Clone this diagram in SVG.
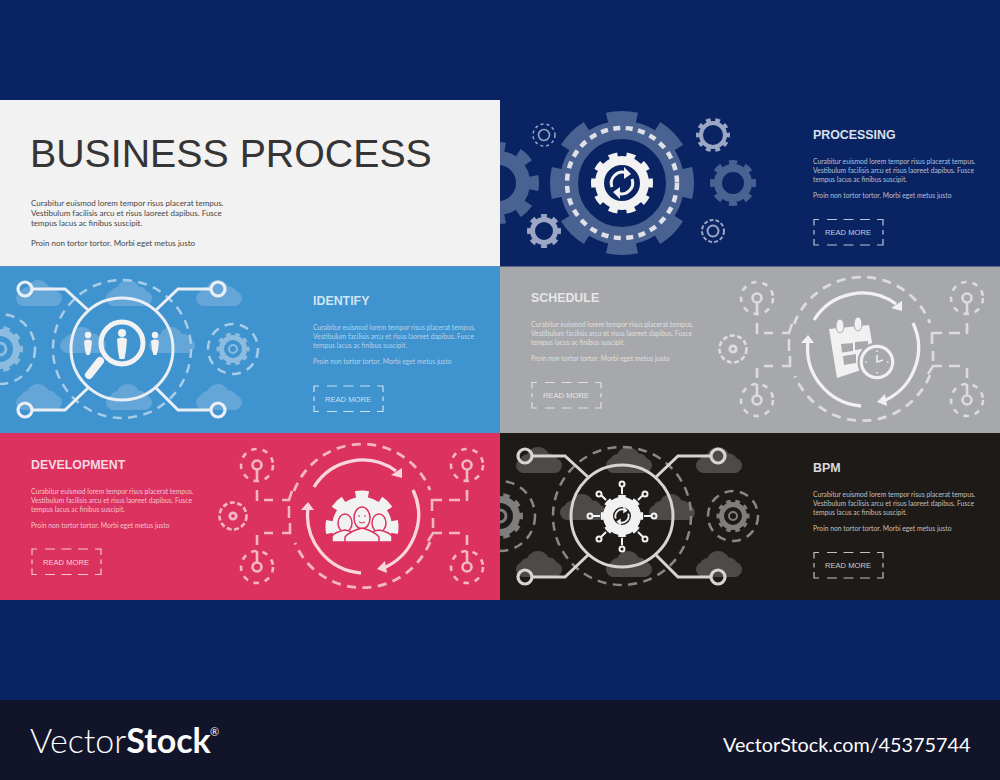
<svg xmlns="http://www.w3.org/2000/svg" width="1000" height="780" viewBox="0 0 1000 780">
<style>
text{font-family:"Liberation Sans",Arial,sans-serif;opacity:.99}
.h{font-weight:700;font-size:12.4px}
.b{font-family:Lato,"Liberation Sans",sans-serif;font-size:6.75px}
.t{font-size:8px}
.m{font-size:7.6px;text-anchor:middle}
.dr{fill:none;stroke:var(--d);stroke-width:2.5;stroke-dasharray:9 6.5}
.hl{fill:none;stroke:var(--l);stroke-width:3}
.cl{fill:var(--c)}
.dl{fill:none;stroke:var(--d);stroke-width:2.6}
.ar{fill:none;stroke:var(--l);stroke-width:3.3}
.ah{fill:var(--l)}
</style>
<defs>
<clipPath id="cHubL"><rect x="0" y="267" width="500" height="166"/></clipPath>
<clipPath id="cTop"><rect x="500" y="100" width="500" height="166"/></clipPath>
<clipPath id="cGear"><rect x="300" y="480" width="130" height="62"/></clipPath>
<path id="box" fill="none" stroke-width="1.2" d="M0 6V0H5M13 0H23M29.500 0H39.500M46 0H56M63 0H69V6M0 10.500V15M69 10.500V15M0 19.500V25.500H5M13 25.500H23M29.500 25.500H39.500M46 25.500H56M63 25.500H69V19.500"/>
<g id="cloud"><rect x="0" y="11" width="46" height="15" rx="7.500"/><circle cx="22" cy="11.500" r="11.500"/><circle cx="12" cy="15" r="8"/><circle cx="33" cy="15" r="8.500"/></g>
<g id="refresh">
<path d="M-10 4A11 11 0 0 1 4 -10.200" fill="none" stroke-width="3"/>
<path d="M10 -4A11 11 0 0 1 -4 10.200" fill="none" stroke-width="3"/>
<path d="M2 -16L9 -9L2 -4Z" stroke="none" fill="#f2f2f2"/>
<path d="M-2 16L-9 9L-2 4Z" stroke="none" fill="#f2f2f2"/>
</g>
<g id="hub">
<use href="#cloud" x="16" y="280" class="cl"/><use href="#cloud" x="106" y="280" class="cl"/><use href="#cloud" x="196" y="280" class="cl"/>
<use href="#cloud" x="60" y="327" class="cl"/><use href="#cloud" x="149" y="327" class="cl"/>
<use href="#cloud" x="16" y="384" class="cl"/><use href="#cloud" x="106" y="384" class="cl"/><use href="#cloud" x="196" y="384" class="cl"/>
<circle cx="122" cy="349" r="69" class="dr"/>
<g clip-path="url(#cHubL)"><circle cx="0" cy="349" r="35" class="dr"/>
<g fill="none" stroke="var(--g)">
<circle cx="0" cy="349" r="16.500" stroke-width="7"/>
<circle cx="0" cy="349" r="20.500" stroke-width="5" pathLength="20" stroke-dasharray="1 1" stroke-dashoffset="0.500"/>
<circle cx="0" cy="349" r="6" stroke-width="3"/>
</g></g>
<circle cx="233" cy="349" r="25" class="dr"/>
<g fill="none" stroke="var(--g)">
<circle cx="233" cy="349" r="11.500" stroke-width="5"/>
<circle cx="233" cy="349" r="14.500" stroke-width="4" pathLength="20" stroke-dasharray="1 1" stroke-dashoffset="0.500"/>
<circle cx="233" cy="349" r="4" stroke-width="2"/>
</g>
<circle cx="122" cy="349" r="51" fill="none" stroke="var(--l)" stroke-width="3"/>
<path class="hl" d="M32 289H65L88 310M211 289H178L156 310M32 410H65L88 388M211 410H178L156 388"/>
<g fill="none" stroke="var(--l)" stroke-width="3.200"><circle cx="25" cy="289" r="7"/><circle cx="218" cy="289" r="7"/><circle cx="25" cy="410" r="7"/><circle cx="218" cy="410" r="7"/></g>
</g>
<g id="cycle">
<g transform="translate(363 349)">
<path d="M-69 -25A73 73 0 0 1 67 -26" fill="none" stroke="var(--d)" stroke-width="2.800" stroke-dasharray="9 6.500"/>
<path d="M67 26A73 73 0 0 1 -68 27" fill="none" stroke="var(--d)" stroke-width="2.800" stroke-dasharray="9 6.500"/>
<path class="ar" d="M-49 -29A57 57 0 0 1 33 -45"/>
<path class="ar" d="M50 -26A58 58 0 0 1 18 53"/>
<path class="ar" d="M-2 57A58 58 0 0 1 -55 -8"/>
<path class="ah" d="M39 -48V-38L28 -41Z"/>
<path class="ah" d="M14 53L22 45L24 57Z"/>
<path class="ah" d="M-55 -14L-62 -6H-49Z"/>
</g>
<g fill="none" stroke="var(--d)">
<circle cx="257" cy="298" r="16" stroke-width="2.600" stroke-dasharray="5.500 6"/>
<circle cx="257" cy="400" r="16" stroke-width="2.600" stroke-dasharray="5.500 6"/>
<circle cx="467" cy="298" r="16" stroke-width="2.600" stroke-dasharray="5.500 6"/>
<circle cx="467" cy="400" r="16" stroke-width="2.600" stroke-dasharray="5.500 6"/>
<circle cx="233" cy="349" r="13.500" stroke-width="2.600" stroke-dasharray="5 2.500"/>
<circle cx="233" cy="349" r="3.200" stroke-width="2.800"/>
<circle cx="257" cy="298" r="4.500" stroke-width="2.600"/>
<circle cx="257" cy="400" r="4.500" stroke-width="2.600"/>
<circle cx="467" cy="298" r="4.500" stroke-width="2.600"/>
<circle cx="467" cy="400" r="4.500" stroke-width="2.600"/>
</g>
<path class="dl" d="M257 303V314M257 323V334M264 333H273M282 333H289L292 324M289 339V351M290 356V366H282M273 366H264M257 368V378M257 384V395M467 303V314M467 323V334M460 333H449M442 333H432V344M433 351V361M428 374L433 366H442M449 366H460M467 368V378M467 384V395"/>
</g>
</defs>
<rect width="1000" height="780" fill="#0a2463"/>
<rect y="700" width="1000" height="80" fill="#12152a"/>

<g id="panel-title">
<rect x="0" y="100" width="500" height="166.500" fill="#f2f2f2"/>
<text x="30" y="167" font-size="39.300" fill="#333">BUSINESS PROCESS</text>
<g fill="#444">
<text class="b t" x="31" y="206">Curabitur euismod lorem tempor risus placerat tempus.</text>
<text class="b t" x="31" y="216">Vestibulum facilisis arcu et risus laoreet dapibus. Fusce</text>
<text class="b t" x="31" y="226">tempus lacus ac finibus suscipit.</text>
<text class="b t" x="31" y="246">Proin non tortor tortor. Morbi eget metus justo</text>
</g>
</g>

<g id="panel-processing">
<g clip-path="url(#cTop)">
<g fill="none" stroke="#4a6291">
<circle cx="498" cy="183" r="25" stroke-width="14"/>
<circle cx="498" cy="183" r="36" stroke-width="10" pathLength="16" stroke-dasharray="1 1" stroke-dashoffset="0.500"/>
<circle cx="622" cy="183" r="53" stroke-width="18"/>
<circle cx="622" cy="183" r="66" stroke-width="12" pathLength="16" stroke-dasharray="1.150 .85" stroke-dashoffset="0.575"/>
<circle cx="733" cy="183" r="15" stroke-width="8"/>
<circle cx="733" cy="183" r="20" stroke-width="6" pathLength="16" stroke-dasharray="1 1" stroke-dashoffset="0.500"/>
</g>
<g fill="none" stroke="#9aa6c3">
<circle cx="713" cy="135" r="12" stroke-width="4"/>
<circle cx="713" cy="135" r="15" stroke-width="4" pathLength="20" stroke-dasharray="1 1" stroke-dashoffset="0.500"/>
<circle cx="544" cy="231" r="11.500" stroke-width="5"/>
<circle cx="544" cy="231" r="15" stroke-width="4" pathLength="16" stroke-dasharray="1 1" stroke-dashoffset="0.500"/>
<circle cx="544" cy="135" r="11" stroke-width="1.500" stroke-dasharray="3 3"/>
<circle cx="544" cy="135" r="5.500" stroke-width="1.500"/>
<circle cx="713" cy="231" r="11" stroke-width="2" stroke-dasharray="4 2"/>
<circle cx="713" cy="231" r="5.500" stroke-width="2"/>
</g>
<circle cx="622" cy="183" r="55" fill="none" stroke="#dfe1e8" stroke-width="4.500" stroke-dasharray="7 5.500"/>
<g fill="none" stroke="#f2f2f2">
<circle cx="622" cy="183" r="22.500" stroke-width="9"/>
<circle cx="622" cy="183" r="28" stroke-width="6" pathLength="20" stroke-dasharray="1 1" stroke-dashoffset="0.500"/>
</g>
<use href="#refresh" x="622" y="183" stroke="#f2f2f2"/>
</g>
<text class="h" x="813" y="139" fill="#dde2ec">PROCESSING</text>
<g fill="#b8c3da">
<text class="b" x="813" y="164">Curabitur euismod lorem tempor risus placerat tempus.</text>
<text class="b" x="813" y="173">Vestibulum facilisis arcu et risus laoreet dapibus. Fusce</text>
<text class="b" x="813" y="182">tempus lacus ac finibus suscipit.</text>
<text class="b" x="813" y="198">Proin non tortor tortor. Morbi eget metus justo</text>
</g>
<use href="#box" x="814" y="219.500" stroke="#b8c3da"/>
<text class="m" x="848" y="235" fill="#c8d0e2">READ MORE</text>
</g>

<g id="panel-identify" style="--d:#a9cce8;--l:#e9eff5;--c:#64a6d8;--g:#8cbce0">
<rect x="0" y="266.500" width="500" height="166.500" fill="#3f93ce"/>
<use href="#hub"/>
<g fill="#f2f2f2">
<circle cx="122" cy="343" r="21" fill="none" stroke="#f2f2f2" stroke-width="5"/>
<path d="M100 361L89 375" stroke="#f2f2f2" stroke-width="8" stroke-linecap="round"/>
<circle cx="122" cy="333" r="4"/><path d="M117 339Q122 336 127 339L126 351L124.500 359H119.500L118 351Z"/>
<circle cx="88" cy="335" r="3.200"/><path d="M84 341Q88 338 92 341L91 350L89.500 355H86.500L85 350Z"/>
<circle cx="155" cy="335" r="3.200"/><path d="M151 341Q155 338 159 341L158 350L156.500 355H153.500L152 350Z"/>
</g>
<text class="h" x="313" y="305" fill="#d4e6f4">IDENTIFY</text>
<g fill="#b5d6ee">
<text class="b" x="313" y="330">Curabitur euismod lorem tempor risus placerat tempus.</text>
<text class="b" x="313" y="339">Vestibulum facilisis arcu et risus laoreet dapibus. Fusce</text>
<text class="b" x="313" y="348">tempus lacus ac finibus suscipit.</text>
<text class="b" x="313" y="364">Proin non tortor tortor. Morbi eget metus justo</text>
</g>
<use href="#box" x="314" y="386" stroke="#cfe2f2"/>
<text class="m" x="348" y="402" fill="#cfe2f2">READ MORE</text>
</g>

<g id="panel-schedule" style="--d:#dcdcdc;--l:#f1f1f1">
<rect x="500" y="266.500" width="500" height="166.500" fill="#a6a8ab"/>
<use href="#cycle" x="500"/>
<path d="M829 329L869 325L876 365L837 378Z" fill="#f1f1f1"/>
<ellipse cx="840" cy="326" rx="4" ry="7" fill="#f1f1f1" stroke="#a6a8ab"/>
<ellipse cx="858" cy="324" rx="4" ry="7" fill="#f1f1f1" stroke="#a6a8ab"/>
<g fill="#a6a8ab"><path d="M841 344L853 343V351L842 352.500Z"/><path d="M855 342L868 341V348L855 350Z"/><path d="M843 356L856 354V363L844 365Z"/></g>
<circle cx="877" cy="362" r="19.500" fill="#a6a8ab"/>
<circle cx="877" cy="362" r="15.700" fill="none" stroke="#f1f1f1" stroke-width="3.200"/>
<path d="M877 350.500V352M877 372V373.500M865.500 362H867M887 362H888.500M877 355V362L883 360" fill="none" stroke="#f1f1f1" stroke-width="1.500"/>
<text class="h" x="531" y="302" fill="#e8e8e8">SCHEDULE</text>
<g fill="#e0e0e0">
<text class="b" x="531" y="327">Curabitur euismod lorem tempor risus placerat tempus.</text>
<text class="b" x="531" y="336">Vestibulum facilisis arcu et risus laoreet dapibus. Fusce</text>
<text class="b" x="531" y="345">tempus lacus ac finibus suscipit.</text>
<text class="b" x="531" y="361">Proin non tortor tortor. Morbi eget metus justo</text>
</g>
<use href="#box" x="532" y="382.500" stroke="#e0e0e0"/>
<text class="m" x="566" y="398" fill="#e8e8e8">READ MORE</text>
</g>

<g id="panel-development" style="--d:#f3b6c6;--l:#f9d6de">
<rect x="0" y="433" width="500" height="167" fill="#dc325f"/>
<use href="#cycle" y="167"/>
<g clip-path="url(#cGear)" fill="none" stroke="#f2f2f2">
<circle cx="362" cy="527" r="15" stroke-width="30"/>
<circle cx="362" cy="527" r="31" stroke-width="11" pathLength="16" stroke-dasharray="1 1" stroke-dashoffset="0.500"/>
</g>
<g fill="#f2f2f2" stroke="#dc325f" stroke-width="1.500">
<ellipse cx="345" cy="523" rx="7" ry="9"/><path d="M332 542V536Q335 532 345 530Q355 532 358 536V542Z"/>
<ellipse cx="379" cy="523" rx="7" ry="9"/><path d="M366 542V536Q369 532 379 530Q389 532 392 536V542Z"/>
<ellipse cx="362" cy="518" rx="8" ry="11"/><path d="M345 542V537Q350 531 362 528Q374 531 379 537V542Z"/>
</g>
<path d="M358 516H360M364 516H366M359 522Q362 524 365 522" fill="none" stroke="#dc325f" stroke-width="1"/>
<text class="h" x="31" y="469" fill="#f8dbe3">DEVELOPMENT</text>
<g fill="#f6c6d2">
<text class="b" x="31" y="494">Curabitur euismod lorem tempor risus placerat tempus.</text>
<text class="b" x="31" y="503">Vestibulum facilisis arcu et risus laoreet dapibus. Fusce</text>
<text class="b" x="31" y="512">tempus lacus ac finibus suscipit.</text>
<text class="b" x="31" y="528">Proin non tortor tortor. Morbi eget metus justo</text>
</g>
<use href="#box" x="32" y="549" stroke="#f6c6d2"/>
<text class="m" x="66" y="565" fill="#f9d6de">READ MORE</text>
</g>

<g id="panel-bpm" style="--d:#8a8886;--l:#d8d4d0;--c:#4d4a48;--g:#807e7c">
<rect x="500" y="433" width="500" height="167" fill="#1d1a18"/>
<use href="#hub" x="500" y="167"/>
<g fill="none" stroke="#f2f2f2">
<circle cx="622" cy="516" r="14" stroke-width="10"/>
<circle cx="622" cy="516" r="18.500" stroke-width="5.500" pathLength="16" stroke-dasharray="1 1" stroke-dashoffset="0.500"/>
<path stroke-width="2" d="M644 516H651M600 516H593M622 494V487M622 538V545M638 500L643 495M606 500L601 495M638 532L643 537M606 532L601 537"/>
<g stroke-width="2"><circle cx="654" cy="516" r="2.500"/><circle cx="590" cy="516" r="2.500"/><circle cx="622" cy="484" r="2.500"/><circle cx="622" cy="549" r="2.500"/><circle cx="645" cy="494" r="2.500"/><circle cx="599" cy="494" r="2.500"/><circle cx="645" cy="539" r="2.500"/><circle cx="599" cy="539" r="2.500"/></g>
</g>
<use href="#refresh" transform="translate(622 516) scale(.62)" stroke="#f2f2f2"/>
<text class="h" x="813" y="472" fill="#dddddd">BPM</text>
<g fill="#c4c2c0">
<text class="b" x="813" y="497">Curabitur euismod lorem tempor risus placerat tempus.</text>
<text class="b" x="813" y="506">Vestibulum facilisis arcu et risus laoreet dapibus. Fusce</text>
<text class="b" x="813" y="515">tempus lacus ac finibus suscipit.</text>
<text class="b" x="813" y="531">Proin non tortor tortor. Morbi eget metus justo</text>
</g>
<use href="#box" x="814" y="552.500" stroke="#c4c2c0"/>
<text class="m" x="848" y="568" fill="#d0cecc">READ MORE</text>
</g>

<g id="footer" fill="#fff">
<text x="30" y="753" font-size="34" style="font-family:Lato,sans-serif;font-weight:300">Vector<tspan font-weight="700">Stock</tspan></text>
<text x="210" y="736" font-size="11" style="font-family:Lato,sans-serif">®</text>
<text x="723" y="752" font-size="19.800" style="font-family:Lato,sans-serif">VectorStock.com/45375744</text>
</g>
</svg>
